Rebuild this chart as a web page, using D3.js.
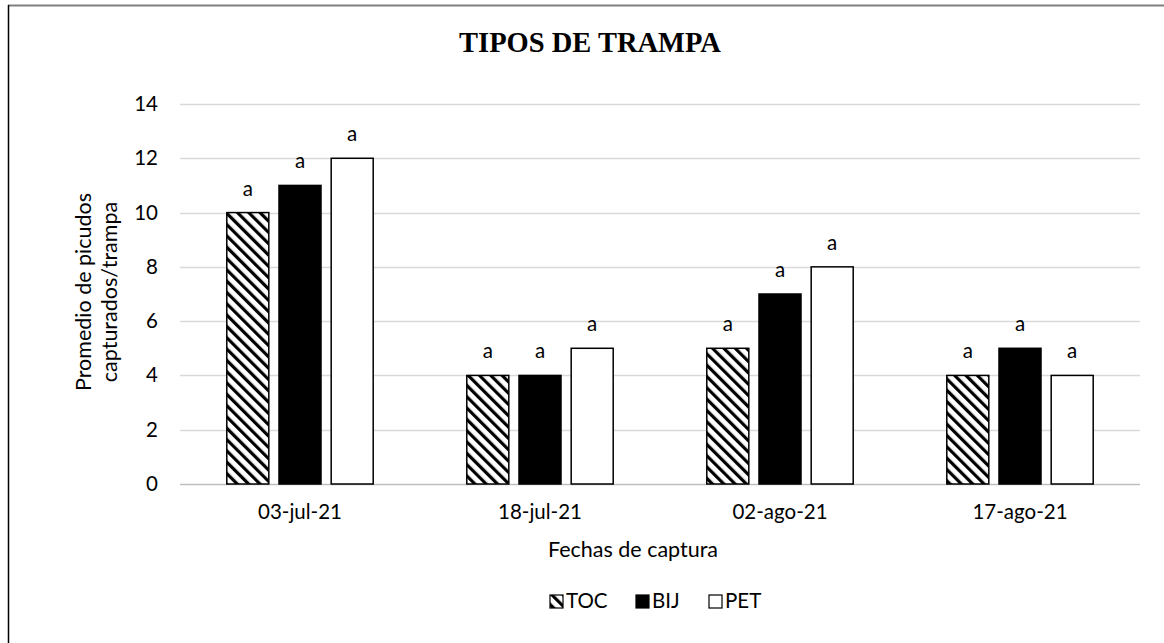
<!DOCTYPE html>
<html><head><meta charset="utf-8">
<script src="https://cdn.jsdelivr.net/npm/d3@7"></script>
<style>body{margin:0;background:#fff}svg{display:block}</style>
</head><body><svg id="c" width="1164" height="643"></svg>
<script>
const categories = ["03-jul-21","18-jul-21","02-ago-21","17-ago-21"];
const seriesNames = ["TOC","BIJ","PET"];
const TOC = [10,4,5,4];
const BIJ = [11,4,7,5];
const PET = [12,5,8,4];
const letters = ["a","a","a","a"];
const yTicks = [0,2,4,6,8,10,12,14];

(function(){
const seriesVals = {TOC, BIJ, PET};
const svg = d3.select("#c");
const font = "Lato, 'Open Sans', sans-serif";
const defs = svg.append("defs");
const pat = defs.append("pattern").attr("id","hatch").attr("patternUnits","userSpaceOnUse")
  .attr("width",8).attr("height",8).attr("patternTransform","rotate(-45)");
pat.append("rect").attr("width",8).attr("height",8).attr("fill","#fff");
pat.append("rect").attr("x",0).attr("y",0).attr("width",3.2).attr("height",8).attr("fill","#000");
const fills = {TOC:"url(#hatch)", BIJ:"#000", PET:"#fff"};

// border
svg.append("line").attr("x1",8).attr("x2",1164).attr("y1",5.5).attr("y2",5.5).attr("stroke","#808080").attr("stroke-width",2);
svg.append("line").attr("x1",8.5).attr("x2",8.5).attr("y1",5).attr("y2",643).attr("stroke","#000").attr("stroke-width",1.5);

const pl=180, pr=1140, pt=104, pb=484;
const x0 = d3.scaleBand().domain(categories).range([pl,pr]).paddingInner(0.39).paddingOuter(0.195);
const x1 = d3.scaleBand().domain(seriesNames).range([0,x0.bandwidth()]).paddingInner(0.195).paddingOuter(0);
const y = d3.scaleLinear().domain([0,14]).range([pb,pt]);

// grid
svg.append("g").selectAll("line").data(yTicks).join("line")
  .attr("x1",pl).attr("x2",pr).attr("y1",d=>Math.round(y(d))+0.5).attr("y2",d=>Math.round(y(d))+0.5)
  .attr("stroke",d=>d===0?"#bfbfbf":"#d9d9d9").attr("stroke-width",1.5);

// y axis ticks via d3 axis
const yAxis = svg.append("g").attr("transform",`translate(${pl},0)`)
  .call(d3.axisLeft(y).tickValues(yTicks).tickSize(0).tickPadding(22).tickFormat(d3.format("d")));
yAxis.select(".domain").remove();
yAxis.selectAll("text").attr("font-family",font).attr("font-size",20.5).attr("fill","#000");

// x axis labels
const xAxis = svg.append("g").attr("transform",`translate(0,${pb})`)
  .call(d3.axisBottom(x0).tickSize(0).tickPadding(20));
xAxis.select(".domain").remove();
xAxis.selectAll("text").attr("font-family",font).attr("font-size",20.5).attr("fill","#000");

// bars
const data = [];
categories.forEach((c,i)=>seriesNames.forEach(s=>data.push({c,s,v:seriesVals[s][i],l:letters[i]})));
svg.append("g").selectAll("rect").data(data).join("rect")
  .attr("x",d=>x0(d.c)+x1(d.s)).attr("y",d=>y(d.v)).attr("width",x1.bandwidth()).attr("height",d=>y(0)-y(d.v))
  .attr("fill",d=>fills[d.s]).attr("stroke","#000").attr("stroke-width",1.5);
svg.append("g").selectAll("text").data(data).join("text")
  .attr("x",d=>x0(d.c)+x1(d.s)+x1.bandwidth()/2).attr("y",d=>y(d.v)-17)
  .attr("text-anchor","middle").attr("font-family",font).attr("font-size",20.5).text(d=>d.l);

// title
svg.append("text").attr("x",590).attr("y",52).attr("text-anchor","middle")
  .attr("font-family","'Liberation Serif', serif").attr("font-weight","bold").attr("font-size",28.5)
  .text("TIPOS DE TRAMPA");

// y title
const yt = svg.append("text").attr("transform","translate(0,292) rotate(-90)")
  .attr("text-anchor","middle").attr("font-family",font).attr("font-size",21.5);
yt.append("tspan").attr("x",0).attr("y",91).text("Promedio de picudos");
yt.append("tspan").attr("x",0).attr("y",117).text("capturados/trampa");

// x title
svg.append("text").attr("x",633).attr("y",557).attr("text-anchor","middle")
  .attr("font-family",font).attr("font-size",21.5).text("Fechas de captura");

// legend
const legX = [550, 636, 709];
const lg = svg.append("g");
seriesNames.forEach((s,i)=>{
  lg.append("rect").attr("x",legX[i]).attr("y",595).attr("width",13).attr("height",13)
    .attr("fill",fills[s]).attr("stroke","#000").attr("stroke-width",1.2);
  lg.append("text").attr("x",legX[i]+16).attr("y",608).attr("font-family",font).attr("font-size",20.5).text(s);
});
})();
</script></body></html>
